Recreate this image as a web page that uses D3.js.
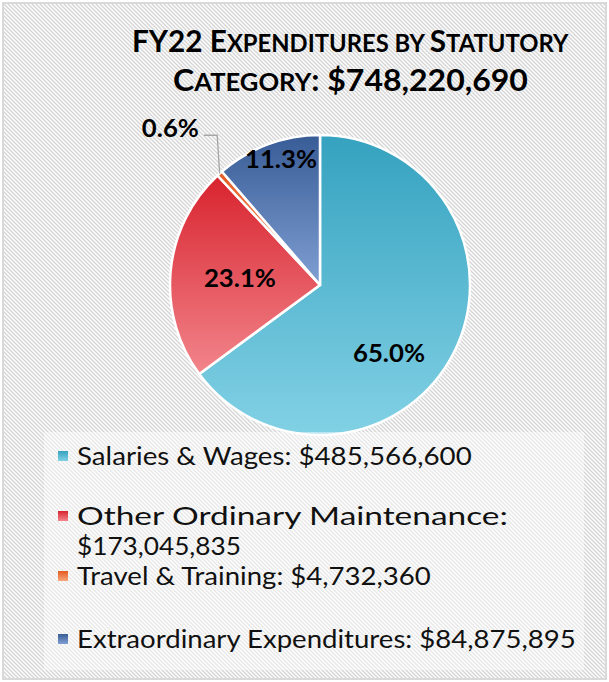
<!DOCTYPE html>
<html>
<head>
<meta charset="utf-8">
<script src="https://cdn.jsdelivr.net/npm/d3@7"></script>
<style>
  html, body { margin: 0; padding: 0; background: #fff; }
  svg { display: block; }
</style>
</head>
<body>
<svg id="chart" width="609" height="682"></svg>
<script>
// ---------------- data ----------------
const categories = ["Salaries & Wages", "Other Ordinary Maintenance", "Travel & Training", "Extraordinary Expenditures"];
const values = [485566600, 173045835, 4732360, 84875895];
const pctLabels = ["65.0%", "23.1%", "0.6%", "11.3%"];
const topColors = ["#35a2bf", "#d8232e", "#e45a22", "#385c96"];
const bottomColors = ["#82d1e5", "#f2858b", "#f8a77c", "#809fd3"];
const titleLine1 = [["FY22 E", 1], ["XPENDITURES BY ", 0], ["S", 1], ["TATUTORY", 0]];
const titleLine2 = [["C", 1], ["ATEGORY", 0]];

// ---------------- layout ----------------
const W = 609, H = 682;
const cx = 320, cy = 285, R = 150;
const FONT = "Lato, 'DejaVu Sans', sans-serif";
// label placement: [angle shift from slice mid (deg), radius fraction]
const labelPlace = [[17.5, 0.643], [0, 0.536], [-1.6, 1.447], [3.3, 0.883]];
// legend text extents (x start / x end for each printed line)
const legendX0 = 77;
const legendX1 = [[472], [508, 241], [431], [576]];
const legendBase = [465, 525, 585, 648];
const legLineH = 30;

const svg = d3.select("#chart");
const defs = svg.append("defs");

// hatch pattern
const pat = defs.append("pattern").attr("id", "hatch")
  .attr("patternUnits", "userSpaceOnUse").attr("width", 4).attr("height", 4);
pat.append("rect").attr("width", 4).attr("height", 4).attr("fill", "#ffffff");
pat.append("path").attr("d", "M-1,-1 L5,5 M-1,3 L1,5 M3,-1 L5,1")
  .attr("stroke", "#d6d6d6").attr("stroke-width", 1.5);

// gradients
categories.forEach((c, i) => {
  const g = defs.append("linearGradient").attr("id", "grad" + i)
    .attr("x1", 0).attr("y1", 0).attr("x2", 0).attr("y2", 1);
  g.append("stop").attr("offset", "0%").attr("stop-color", topColors[i]);
  g.append("stop").attr("offset", "100%").attr("stop-color", bottomColors[i]);
});

// background
svg.append("rect").attr("x", 0).attr("y", 0).attr("width", W).attr("height", H).attr("fill", "#fff");
svg.append("rect").attr("x", 3).attr("y", 3).attr("width", W - 6).attr("height", H - 6)
  .attr("fill", "url(#hatch)").attr("stroke", "#d9d9d9").attr("stroke-width", 2);

// helpers
const fmt = d3.format("$,");
const total = d3.sum(values);
function fitText(sel, x0, x1) {
  const bb = sel.node().getBBox();
  const s = (x1 - x0) / bb.width;
  sel.attr("transform", `translate(${x0},0) scale(${s},1) translate(${-bb.x},0)`);
  return s;
}
function fitCenter(sel, xc, s) {
  const bb = sel.node().getBBox();
  const w = bb.width * s;
  sel.attr("transform", `translate(${xc - w / 2},0) scale(${s},1) translate(${-bb.x},0)`);
}

// title
const tg = svg.append("g").attr("font-family", FONT).attr("font-weight", "bold").attr("fill", "#000");
const t1 = tg.append("text").attr("x", 0).attr("y", 52);
titleLine1.forEach(([t, big]) => t1.append("tspan").attr("font-size", big ? 30 : 24).text(t));
const t2 = tg.append("text").attr("x", 0).attr("y", 91);
titleLine2.forEach(([t, big]) => t2.append("tspan").attr("font-size", big ? 30 : 24).text(t));
t2.append("tspan").attr("font-size", 30).text(": " + fmt(total));
fitText(t1, 132, 569);
fitText(t2, 173, 528);

// pie
const pie = d3.pie().sort(null).value(d => d)(values);
const arc = d3.arc().innerRadius(0).outerRadius(R);
const pg = svg.append("g").attr("transform", `translate(${cx},${cy})`);
pg.selectAll("path.slice").data(pie).join("path").attr("class", "slice")
  .attr("d", arc)
  .attr("fill", (d, i) => `url(#grad${i})`)
  .attr("stroke", "#fff").attr("stroke-width", 2.5).attr("stroke-linejoin", "round");

// labels
const lg = pg.append("g").attr("font-family", FONT).attr("font-weight", "bold")
  .attr("font-size", 25).attr("fill", "#000");
const labelNodes = [];
pie.forEach((d, i) => {
  const mid = (d.startAngle + d.endAngle) / 2 + labelPlace[i][0] * Math.PI / 180;
  const r = labelPlace[i][1] * R;
  const x = r * Math.sin(mid), y = -r * Math.cos(mid);
  const t = lg.append("text").attr("y", y + 9.5).text(pctLabels[i]);
  labelNodes.push({ t, x, y, d });
});
const bb0 = labelNodes[0].t.node().getBBox();
const ls = 72 / bb0.width;
labelNodes.forEach(n => fitCenter(n.t, n.x, ls));

// leader line for the small slice
{
  const n = labelNodes[2];
  const bb = n.t.node().getBBox();
  const right = n.x + bb.width * ls / 2 + 5;
  const mid = (n.d.startAngle + n.d.endAngle) / 2;
  const ex = R * Math.sin(mid), ey = -R * Math.cos(mid);
  const ly = n.y + 7.5;
  pg.append("path")
    .attr("d", `M${right},${ly} L${ex - 2.5},${ly} L${ex},${ey}`)
    .attr("fill", "none").attr("stroke", "#a6a6a6").attr("stroke-width", 1.3);
}

// legend
svg.append("rect").attr("x", 44).attr("y", 432).attr("width", 540).attr("height", 238)
  .attr("fill", "#fff").attr("fill-opacity", 0.45);
const legendLines = [
  [categories[0] + ": " + fmt(values[0])],
  [categories[1] + ":", fmt(values[1])],
  [categories[2] + ": " + fmt(values[2])],
  [categories[3] + ": " + fmt(values[3])]
];
const leg = svg.append("g").attr("font-family", FONT).attr("font-size", 25).attr("fill", "#111");
legendLines.forEach((lines, i) => {
  leg.append("rect").attr("x", 58).attr("y", legendBase[i] - 14).attr("width", 10).attr("height", 10)
    .attr("fill", `url(#grad${i})`);
  lines.forEach((ln, j) => {
    const t = leg.append("text").attr("y", legendBase[i] + j * legLineH).text(ln);
    fitText(t, legendX0, legendX1[i][j]);
  });
});
</script>
</body>
</html>
